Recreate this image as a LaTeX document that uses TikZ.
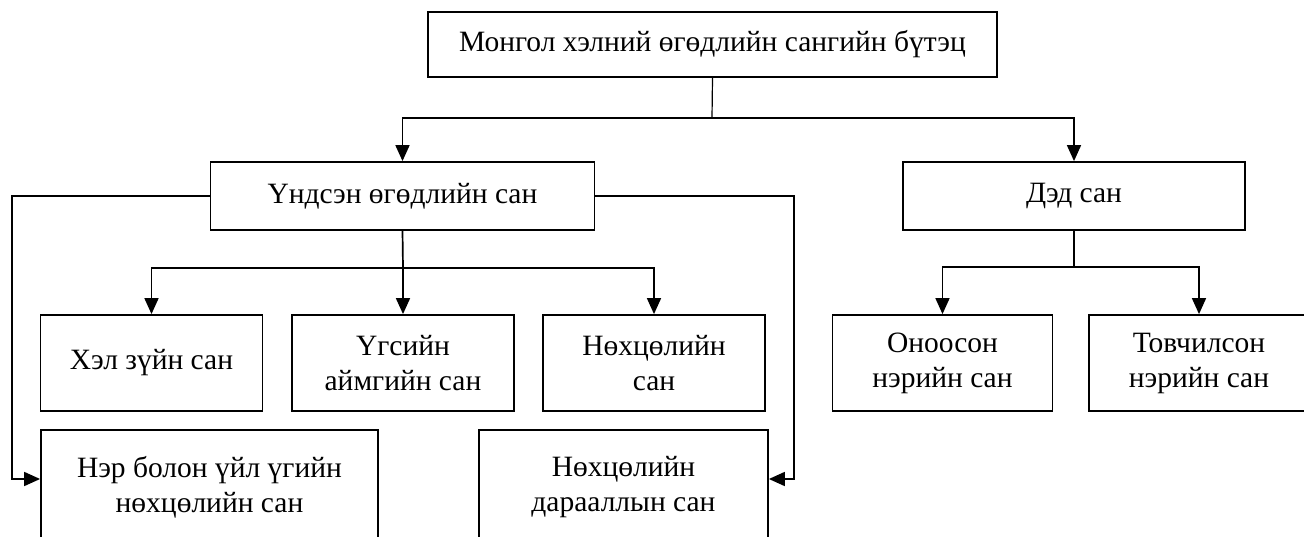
\documentclass[tikz,border=0pt]{standalone}
\usepackage{fontspec}
\setmainfont{Liberation Serif}
\usetikzlibrary{arrows.meta}
\begin{document}
\begin{tikzpicture}[x=1pt,y=-1pt,line width=1.7pt,
  box/.style={draw=black,line width=1.8pt,inner sep=0pt,align=center,
    font=\fontsize{29.5}{35}\selectfont},
  arr/.style={-{Triangle[length=16pt,width=14pt]}}]
\useasboundingbox (0,0) rectangle (1304,537);
\clip (0,0) rectangle (1304,537);
\node [box,minimum width=569,minimum height=65] (root) at (712.5,44.5) {Монгол хэлний өгөдлийн сангийн бүтэц};
\node [box,minimum width=384,minimum height=68] (base) at (402.5,196) {Үндсэн өгөдлийн сан};
\node [box,minimum width=342,minimum height=68] (sub) at (1074,196) {Дэд сан};
\node [box,minimum width=222,minimum height=96] (gram) at (151.5,363) {Хэл зүйн сан};
\node [box,minimum width=222,minimum height=96] (lex) at (403,363) {Үгсийн\\аймгийн сан};
\node [box,minimum width=222,minimum height=96] (suff) at (654,363) {Нөхцөлийн\\сан};
\node [box,minimum width=337,minimum height=114] (nounverb) at (209.5,487) {Нэр болон үйл үгийн\\нөхцөлийн сан};
\node [box,minimum width=289,minimum height=114] (seq) at (623.5,487) {Нөхцөлийн\\дарааллын сан};
\node [box,minimum width=220,minimum height=96] (proper) at (942.5,363) {Оноосон\\нэрийн сан};
\node [box,minimum width=220,minimum height=96] (abbr) at (1199,363) {Товчилсон\\нэрийн сан};
\coordinate (j1) at (712,118);
\coordinate (j2) at (403,268);
\coordinate (j3) at (1074,267);
\coordinate (lft) at (12,479);
\coordinate (rgt) at (794,479);
\draw [line width=1.2pt] (root.south) -- (j1);
\draw [arr] (j1) -| (base.north);
\draw [arr] (j1) -| (sub.north);
\draw (base.south) -- (j2);
\draw [arr] (j2) -| (gram.north);
\draw [arr] (j2) -- (lex.north);
\draw [arr] (j2) -| (suff.north);
\draw [arr] (base.west) -| (lft) -- (lft -| nounverb.west);
\draw [arr] (base.east) -| (rgt) -- (rgt -| seq.east);
\draw (sub.south) -- (j3);
\draw [arr] (j3) -| (proper.north);
\draw [arr] (j3) -| (abbr.north);
\end{tikzpicture}
\end{document}
